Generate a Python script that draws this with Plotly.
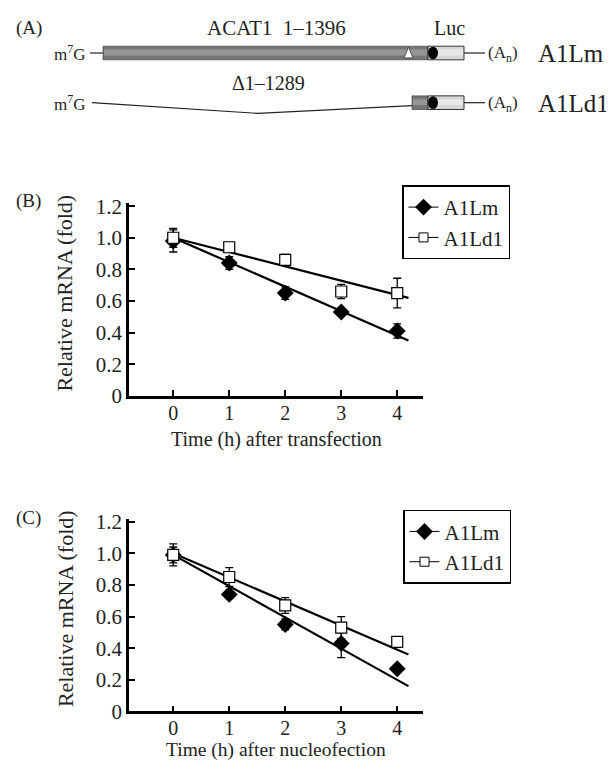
import plotly.graph_objects as go

# ---------------- data ----------------
hours = [0, 1, 2, 3, 4]
x_ticks = [0, 1, 2, 3, 4]
y_tickvals = [0, 0.2, 0.4, 0.6, 0.8, 1.0, 1.2]
y_ticktext = ["0", "0.2", "0.4", "0.6", "0.8", "1.0", "1.2"]

# Panel B (transfection)
b_a1lm = [0.98, 0.84, 0.65, 0.53, 0.41]
b_a1lm_err = [0.07, 0.04, 0.04, 0.015, 0.045]
b_a1ld1 = [1.00, 0.94, 0.86, 0.66, 0.65]
b_a1ld1_err = [0.06, 0.03, 0.035, 0.045, 0.094]
fit_x = [0, 4.2]
b_a1lm_fit = [1.0, 0.35]
b_a1ld1_fit = [1.0, 0.62]

# Panel C (nucleofection)
c_a1lm = [0.99, 0.74, 0.55, 0.43, 0.27]
c_a1lm_err = [0.05, 0.015, 0.035, 0.09, 0.02]
c_a1ld1 = [0.99, 0.85, 0.67, 0.53, 0.44]
c_a1ld1_err = [0.07, 0.06, 0.05, 0.07, 0.03]
c_a1lm_fit = [0.99, 0.16]
c_a1ld1_fit = [1.0, 0.36]

series_names = ["A1Lm", "A1Ld1"]

FONT = "Liberation Serif"
OFF = 8                      # default page margin of the html body
W, H = 614 - OFF, 775 - OFF


def px(x):
    return (x - OFF) / W


def py(y):
    return 1 - (y - OFF) / H


fig = go.Figure()


def add_panel(xa, ya, lm, lm_err, ld, ld_err, lm_fit, ld_fit, legend):
    for fy in (lm_fit, ld_fit):
        fig.add_trace(go.Scatter(x=fit_x, y=fy, mode="lines", xaxis=xa, yaxis=ya,
                                 line=dict(color="black", width=2.2), showlegend=False,
                                 hoverinfo="skip"))
    fig.add_trace(go.Scatter(x=hours, y=lm, mode="markers", xaxis=xa, yaxis=ya,
                             marker=dict(symbol="diamond", size=13, color="black"),
                             error_y=dict(type="data", array=lm_err, color="black",
                                          thickness=1.3, width=4),
                             showlegend=False))
    fig.add_trace(go.Scatter(x=hours, y=ld, mode="markers", xaxis=xa, yaxis=ya,
                             marker=dict(symbol="square", size=11, color="white",
                                         line=dict(color="black", width=1.2)),
                             error_y=dict(type="data", array=ld_err, color="black",
                                          thickness=1.3, width=4),
                             showlegend=False))
    # legend entries
    fig.add_trace(go.Scatter(x=[None], y=[None], mode="lines+markers", xaxis=xa, yaxis=ya,
                             name=series_names[0], legend=legend,
                             line=dict(color="black", width=1),
                             marker=dict(symbol="diamond", size=13, color="black")))
    fig.add_trace(go.Scatter(x=[None], y=[None], mode="lines+markers", xaxis=xa, yaxis=ya,
                             name=series_names[1], legend=legend,
                             line=dict(color="black", width=1),
                             marker=dict(symbol="square", size=9, color="white",
                                         line=dict(color="black", width=1))))


add_panel("x", "y", b_a1lm, b_a1lm_err, b_a1ld1, b_a1ld1_err, b_a1lm_fit, b_a1ld1_fit, "legend")
add_panel("x2", "y2", c_a1lm, c_a1lm_err, c_a1ld1, c_a1ld1_err, c_a1lm_fit, c_a1ld1_fit, "legend2")

xdom = [px(129), px(423)]
axis_common = dict(showline=True, linecolor="black", linewidth=2.6, ticks="inside",
                   ticklen=6, tickwidth=2, tickcolor="black", showgrid=False, zeroline=False,
                   tickfont=dict(family=FONT, size=21, color="#222"))
xcommon = dict(axis_common, range=[-0.79, 4.46], tickvals=x_ticks, ticklabelstandoff=-3,
               tickfont=dict(family=FONT, size=20, color="#222"))
ycommon = dict(axis_common, range=[0, 1.22], tickvals=y_tickvals, ticktext=y_ticktext)

legend_common = dict(bordercolor="black", borderwidth=1.5, bgcolor="white",
                     font=dict(family=FONT, size=21, color="#222"), xanchor="left",
                     yanchor="top", itemwidth=30, traceorder="normal")

fig.update_layout(
    width=W, height=H, margin=dict(l=0, r=0, t=0, b=0),
    paper_bgcolor="white", plot_bgcolor="white",
    xaxis=dict(xcommon, domain=xdom, anchor="y"),
    yaxis=dict(ycommon, domain=[py(398), py(200)], anchor="x"),
    xaxis2=dict(xcommon, domain=xdom, anchor="y2"),
    yaxis2=dict(ycommon, domain=[py(722), py(524)], anchor="x2"),
    legend=dict(legend_common, x=px(402), y=py(182)),
    legend2=dict(legend_common, x=px(403), y=py(515)),
)

ann = []


def text(x, y, s, size, anchor="center", angle=0, yanchor="middle"):
    ann.append(dict(x=px(x), y=py(y), xref="paper", yref="paper", text=s, showarrow=False,
                    xanchor=anchor, yanchor=yanchor, textangle=angle,
                    font=dict(family=FONT, size=size, color="#222")))


# panel labels
text(14, 20, "(A)", 19, "left")
text(14, 198, "(B)", 19, "left")
text(14, 523, "(C)", 19, "left")
# axis titles
text(65, 293, "Relative mRNA (fold)", 22, angle=-90)
text(65, 617, "Relative mRNA (fold)", 22, angle=-90)
text(276, 443, "Time (h) after transfection", 20)
text(276, 775, "Time (h) after nucleofection", 19.5, yanchor="bottom")

# ---------------- panel A diagram ----------------
shapes = []
r1, r2 = 46, 97
bh = 7


def rect(x0, x1, yc, fill, lw=1):
    shapes.append(dict(type="rect", xref="paper", yref="paper", x0=px(x0), x1=px(x1),
                       y0=py(yc + bh), y1=py(yc - bh), fillcolor=fill,
                       line=dict(color="#333", width=lw)))


def line(x0, y0, x1, y1, w=1.2):
    shapes.append(dict(type="line", xref="paper", yref="paper", x0=px(x0), y0=py(y0),
                       x1=px(x1), y1=py(y1), line=dict(color="#222", width=w)))


def stripe(x0, x1, yc, fill):
    shapes.append(dict(type="rect", xref="paper", yref="paper", x0=px(x0), x1=px(x1),
                       y0=py(yc + 2.5), y1=py(yc - 3.5), fillcolor=fill, line=dict(width=0)))


def blob(xc, yc):
    shapes.append(dict(type="circle", xref="paper", yref="paper", x0=px(xc - 5), x1=px(xc + 5),
                       y0=py(yc + 6.5), y1=py(yc - 6.5), fillcolor="black",
                       line=dict(color="black", width=0)))


# row 1
line(90, r1, 103, r1)
rect(103, 428, r1, "#767676", 0.6)
stripe(104, 427, r1, "#969696")
rect(428, 464, r1, "#d6d6d6", 1)
stripe(429, 463, r1, "#e8e8e8")
line(464, r1, 485, r1)
blob(433, r1)
tri = "M {0},{1} L {2},{3} L {4},{5} Z".format(px(404), py(r1 + 5), px(413), py(r1 + 5),
                                               px(408.5), py(r1 - 6))
shapes.append(dict(type="path", xref="paper", yref="paper", path=tri, fillcolor="white",
                   line=dict(color="#333", width=0.8)))
# row 2
line(92, r2, 258, r2 + 11)
line(258, r2 + 11, 412, r2 + 3)
rect(412, 428, r2, "#767676", 0.6)
stripe(413, 427, r2, "#969696")
rect(428, 464, r2, "#d6d6d6", 1)
stripe(429, 463, r2, "#e8e8e8")
line(464, r2, 485, r2)
blob(433, r2)

text(276, 20, "ACAT1  1\u20131396", 21)
text(449, 20, "Luc", 20)
text(268, 77, "\u03941\u20131289", 20)
for r in (r1, r2):
    text(87, r, "m<sup>7</sup>G", 17, "right")
    text(486, r + 1, "(A<sub>n</sub>)", 17, "left")
text(536, r1 + 1, "A1Lm", 25, "left")
text(536, r2 + 1, "A1Ld1", 25, "left")

fig.update_layout(annotations=ann, shapes=shapes)
fig.write_html("out.html")
